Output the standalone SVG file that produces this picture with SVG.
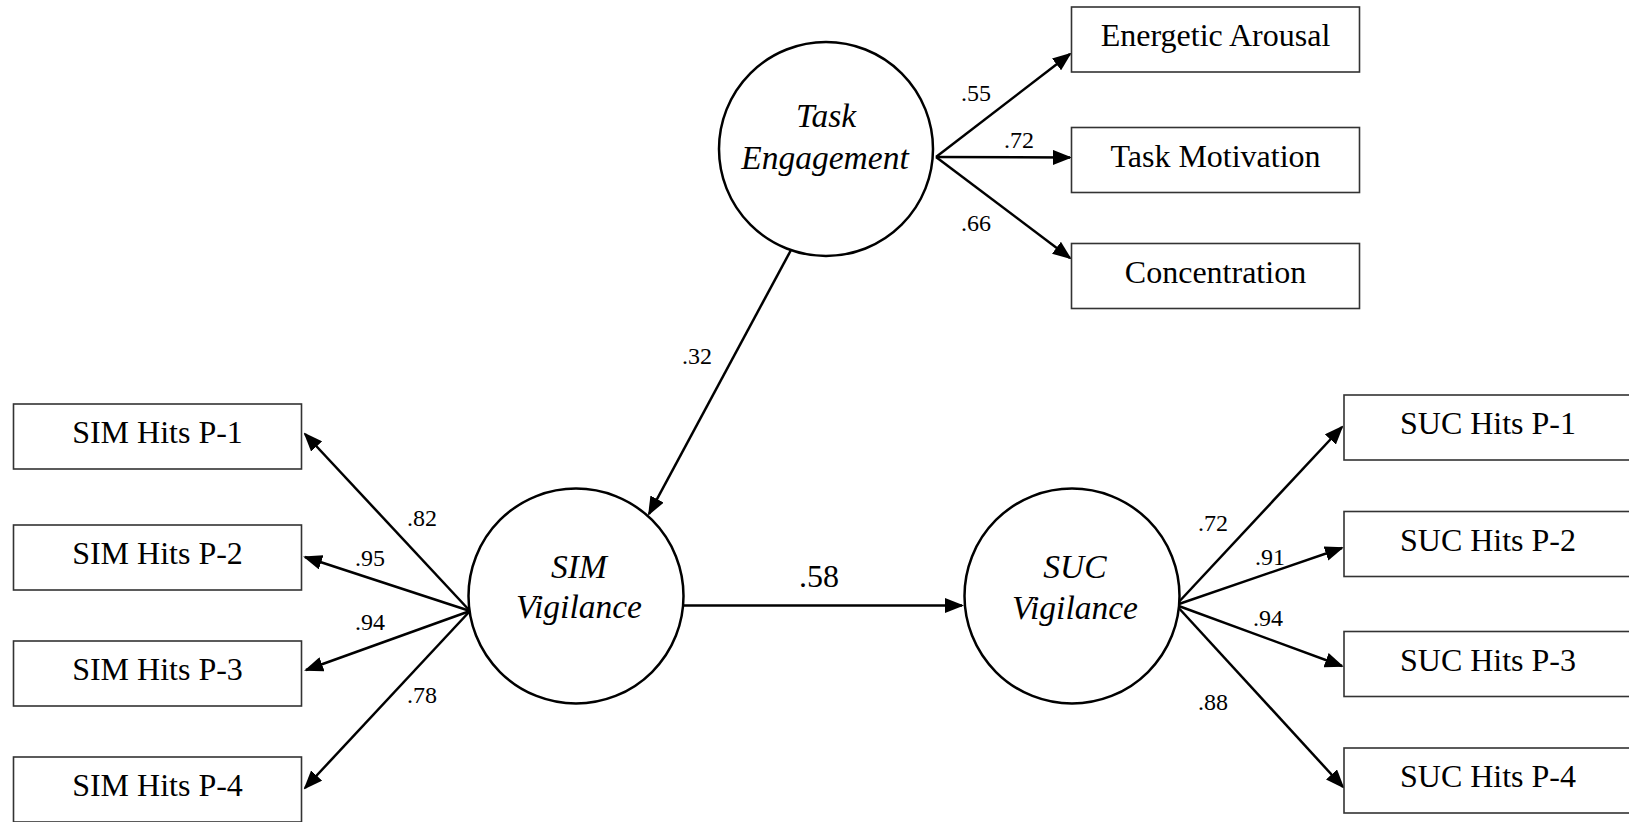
<svg xmlns="http://www.w3.org/2000/svg" width="1629" height="822" viewBox="0 0 1629 822">
<defs>
<style>
.box{fill:#fff;stroke:#333;stroke-width:1.6}
.lat{fill:#fff;stroke:#000;stroke-width:2.5}
.t{font-family:"Liberation Serif","Times New Roman",serif;font-size:32px;fill:#000;text-anchor:middle}
.it{font-family:"Liberation Serif","Times New Roman",serif;font-size:33.5px;font-style:italic;fill:#000;text-anchor:middle}
.lb{font-family:"Liberation Serif","Times New Roman",serif;font-size:24px;fill:#000;text-anchor:middle}
.lbb{font-family:"Liberation Serif","Times New Roman",serif;font-size:32px;fill:#000;text-anchor:middle}
.c{stroke:#000;stroke-width:2.5;fill:none;marker-end:url(#ah)}
</style>
<marker id="ah" markerUnits="userSpaceOnUse" markerWidth="19" markerHeight="15" refX="17" refY="7.5" orient="auto">
<path d="M0,0 L19,7.5 L0,15 z" fill="#000"/>
</marker>
</defs>
<rect width="1629" height="822" fill="#fff"/>
<g id="connectors">
<line class="c" x1="936" y1="157" x2="1070" y2="54"/>
<line class="c" x1="936" y1="157" x2="1070" y2="157.5"/>
<line class="c" x1="936" y1="157" x2="1070" y2="258"/>
<line class="c" x1="791" y1="250" x2="649" y2="514"/>
<line class="c" x1="684" y1="605.5" x2="962" y2="605.5"/>
<line class="c" x1="470" y1="611" x2="305" y2="434"/>
<line class="c" x1="470" y1="611" x2="305" y2="557"/>
<line class="c" x1="470" y1="611" x2="306" y2="670"/>
<line class="c" x1="470" y1="611" x2="305" y2="788"/>
<line class="c" x1="1176" y1="605" x2="1342" y2="427"/>
<line class="c" x1="1176" y1="605" x2="1342" y2="548"/>
<line class="c" x1="1176" y1="605" x2="1342" y2="666"/>
<line class="c" x1="1176" y1="605" x2="1343" y2="787"/>
</g>
<g id="labels">
<text class="lb" x="976" y="101">.55</text>
<text class="lb" x="1019" y="148">.72</text>
<text class="lb" x="976" y="231">.66</text>
<text class="lb" x="697" y="364">.32</text>
<text class="lbb" x="819" y="587">.58</text>
<text class="lb" x="422" y="526">.82</text>
<text class="lb" x="370" y="566">.95</text>
<text class="lb" x="370" y="630">.94</text>
<text class="lb" x="422" y="703">.78</text>
<text class="lb" x="1213" y="531">.72</text>
<text class="lb" x="1270" y="565">.91</text>
<text class="lb" x="1268" y="626">.94</text>
<text class="lb" x="1213" y="710">.88</text>
</g>
<g id="task-engagement">
<circle class="lat" cx="826" cy="149" r="107"/>
<text class="it" x="826" y="127">Task</text>
<text class="it" x="825" y="169">Engagement</text>
</g>
<g id="sim-vigilance">
<circle class="lat" cx="576" cy="596" r="107.5"/>
<text class="it" x="579" y="578">SIM</text>
<text class="it" x="579" y="618">Vigilance</text>
</g>
<g id="suc-vigilance">
<circle class="lat" cx="1072" cy="596" r="107.5"/>
<text class="it" x="1075" y="578">SUC</text>
<text class="it" x="1075" y="619">Vigilance</text>
</g>
<g id="energetic-arousal">
<rect class="box" x="1071.5" y="7" width="288" height="65"/>
<text class="t" x="1215.5" y="46">Energetic Arousal</text>
</g>
<g id="task-motivation">
<rect class="box" x="1071.5" y="127.5" width="288" height="65"/>
<text class="t" x="1215.5" y="167">Task Motivation</text>
</g>
<g id="concentration">
<rect class="box" x="1071.5" y="243.5" width="288" height="65"/>
<text class="t" x="1215.5" y="283">Concentration</text>
</g>
<g id="sim-p1">
<rect class="box" x="13.5" y="404" width="288" height="65"/>
<text class="t" x="157.5" y="443">SIM Hits P-1</text>
</g>
<g id="sim-p2">
<rect class="box" x="13.5" y="525" width="288" height="65"/>
<text class="t" x="157.5" y="564">SIM Hits P-2</text>
</g>
<g id="sim-p3">
<rect class="box" x="13.5" y="641" width="288" height="65"/>
<text class="t" x="157.5" y="680">SIM Hits P-3</text>
</g>
<g id="sim-p4">
<rect class="box" x="13.5" y="757" width="288" height="65"/>
<text class="t" x="157.5" y="796">SIM Hits P-4</text>
</g>
<g id="suc-p1">
<rect class="box" x="1344" y="395" width="288" height="65"/>
<text class="t" x="1488" y="434">SUC Hits P-1</text>
</g>
<g id="suc-p2">
<rect class="box" x="1344" y="511.5" width="288" height="65"/>
<text class="t" x="1488" y="551">SUC Hits P-2</text>
</g>
<g id="suc-p3">
<rect class="box" x="1344" y="631.5" width="288" height="65"/>
<text class="t" x="1488" y="671">SUC Hits P-3</text>
</g>
<g id="suc-p4">
<rect class="box" x="1344" y="748" width="288" height="65"/>
<text class="t" x="1488" y="787">SUC Hits P-4</text>
</g>
</svg>
